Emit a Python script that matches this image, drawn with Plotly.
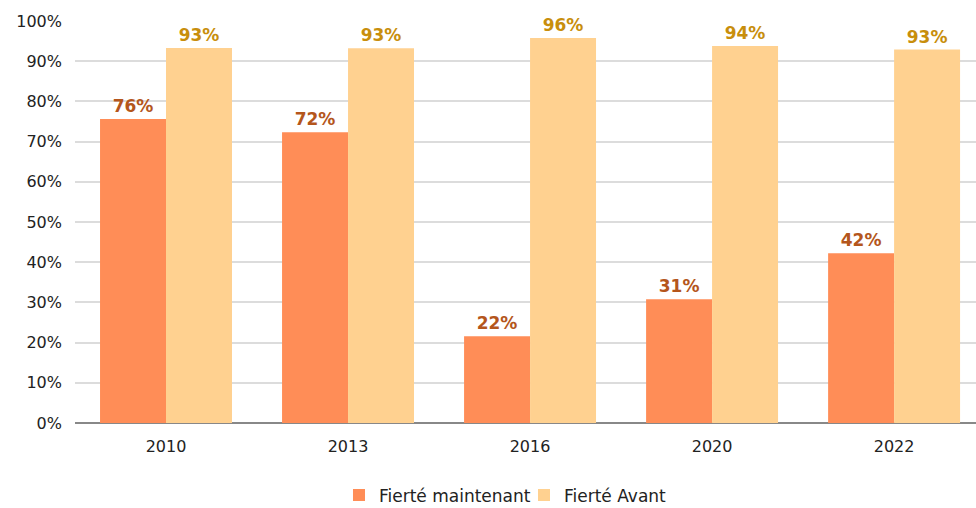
import plotly.graph_objects as go

years = ["2010", "2013", "2016", "2020", "2022"]
fierte_maintenant = [75.6, 72.3, 21.6, 30.8, 42.2]
fierte_avant = [93.3, 93.2, 95.8, 93.8, 92.9]
y_ticks = [0, 10, 20, 30, 40, 50, 60, 70, 80, 90, 100]

font_family = "DejaVu Sans, Verdana, sans-serif"

fig = go.Figure()
fig.add_trace(go.Bar(
    name="Fierté maintenant", x=years, y=fierte_maintenant,
    marker=dict(color="#FF8D57", line=dict(width=0)),
    text=[f"{round(v)}%" for v in fierte_maintenant],
    textposition="outside", cliponaxis=False,
    textfont=dict(family=font_family, size=17, color="#B4561C", weight="bold"),
))
fig.add_trace(go.Bar(
    name="Fierté Avant", x=years, y=fierte_avant,
    marker=dict(color="#FFD190", line=dict(width=0)),
    text=[f"{round(v)}%" for v in fierte_avant],
    textposition="outside", cliponaxis=False,
    textfont=dict(family=font_family, size=17, color="#C88E0C", weight="bold"),
))

fig.update_layout(
    width=976, height=508,
    margin=dict(l=75, r=0, t=21, b=85, autoexpand=False),
    barmode="group", bargap=0.275, bargroupgap=0,
    plot_bgcolor="white", paper_bgcolor="white",
    font=dict(family=font_family, size=16, color="#222"),
    showlegend=True,
    legend=dict(orientation="h", x=0.293, xanchor="left",
                yref="container", y=0.06, yanchor="top",
                font=dict(size=17, color="#222"), itemwidth=30, traceorder="normal",
                entrywidth=140),
    uniformtext=dict(mode=False),
)
fig.update_xaxes(
    type="category", range=[-0.5, 4.45], automargin=False,
    showline=False, ticks="", tickfont=dict(size=16, color="#222"),
    ticklabelstandoff=12,
)
fig.update_yaxes(
    range=[0, 100], tickvals=y_ticks, ticktext=[f"{v}%" for v in y_ticks],
    showgrid=True, gridcolor="#DCDCDC", gridwidth=2, automargin=False,
    zeroline=True, zerolinecolor="#888", zerolinewidth=2,
    tickfont=dict(size=16, color="#222"), ticks="", ticklen=0, ticklabelstandoff=12,
)

fig.write_html("out.html", config={"displayModeBar": False},
               post_script="document.body.style.margin='0';document.body.style.overflow='hidden';")
